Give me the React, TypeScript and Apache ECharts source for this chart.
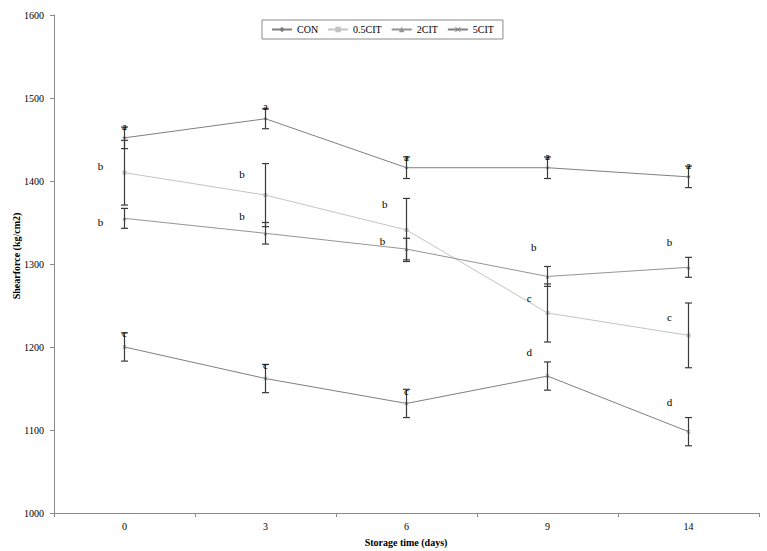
import React, { useEffect, useRef } from "react";
import * as echarts from "echarts";

const categories = ["0", "3", "6", "9", "14"];
const seriesNames = ["CON", "0.5CIT", "2CIT", "5CIT"];

const conValues = [1452, 1475, 1416, 1416, 1405];
const conErr = [13, 12, 13, 13, 13];
const cit05Values = [1410, 1383, 1341, 1241, 1214];
const cit05Err = [39, 38, 38, 35, 39];
const cit2Values = [1355, 1337, 1318, 1285, 1296];
const cit2Err = [12, 13, 13, 12, 12];
const cit5Values = [1200, 1162, 1132, 1165, 1098];
const cit5Err = [17, 17, 17, 17, 17];

// significance letters: letter, vertical anchor (kg/cm2), horizontal shift (fraction of a category)
const conLetters = ["a", "a", "a", "a", "a"];
const conLetterY = [1466, 1490, 1429, 1430, 1419];
const conLetterDx = [0, 0, 0, 0, 0];
const cit05Letters = ["b", "b", "b", "c", "c"];
const cit05LetterY = [1418, 1409, 1372, 1259, 1236];
const cit05LetterDx = [-0.17, -0.166, -0.154, -0.13, -0.135];
const cit2Letters = ["b", "b", "b", "b", "b"];
const cit2LetterY = [1351, 1358, 1328, 1321, 1326];
const cit2LetterDx = [-0.17, -0.166, -0.17, -0.097, -0.135];
const cit5Letters = ["c", "c", "c", "d", "d"];
const cit5LetterY = [1217, 1178, 1147, 1194, 1134];
const cit5LetterDx = [0, 0, 0, -0.13, -0.135];

const FONT = '"Liberation Serif", "Times New Roman", serif';
const X_SYMBOL = "path://M0,1L1,0L5,4L9,0L10,1L6,5L10,9L9,10L5,6L1,10L0,9L4,5Z";

export default function App() {
  const ref = useRef<HTMLDivElement>(null);

  useEffect(() => {
    if (!ref.current) return;
    const chart = echarts.init(ref.current, undefined, { renderer: "svg" });

    const lineDefs = [
      { name: seriesNames[0], values: conValues, color: "#7f7f7f", symbol: "diamond", size: 4 },
      { name: seriesNames[1], values: cit05Values, color: "#c4c4c4", symbol: "rect", size: 4 },
      { name: seriesNames[2], values: cit2Values, color: "#959595", symbol: "triangle", size: 4 },
      { name: seriesNames[3], values: cit5Values, color: "#7f7f7f", symbol: X_SYMBOL, size: 4 },
    ];
    const errDefs = [
      { values: conValues, err: conErr },
      { values: cit05Values, err: cit05Err },
      { values: cit2Values, err: cit2Err },
      { values: cit5Values, err: cit5Err },
    ];
    const letterDefs = [
      { letters: conLetters, ys: conLetterY, dx: conLetterDx },
      { letters: cit05Letters, ys: cit05LetterY, dx: cit05LetterDx },
      { letters: cit2Letters, ys: cit2LetterY, dx: cit2LetterDx },
      { letters: cit5Letters, ys: cit5LetterY, dx: cit5LetterDx },
    ];

    const lineSeries = lineDefs.map((d) => ({
      type: "line",
      name: d.name,
      data: d.values,
      symbol: d.symbol,
      symbolSize: d.size,
      showAllSymbol: true,
      lineStyle: { color: d.color, width: 1 },
      itemStyle: { color: d.color },
      z: 2,
    }));

    const errorSeries = errDefs.map((d) => ({
      type: "custom",
      silent: true,
      z: 3,
      data: d.values.map((v, i) => [i, v - d.err[i], v + d.err[i]]),
      renderItem: (params: any, api: any) => {
        const x = api.value(0);
        const top = api.coord([x, api.value(2)]);
        const bot = api.coord([x, api.value(1)]);
        const w = 3.5;
        const st = { stroke: "#3a3a3a", lineWidth: 1.2 };
        return {
          type: "group",
          children: [
            { type: "line", shape: { x1: top[0], y1: top[1], x2: bot[0], y2: bot[1] }, style: st },
            { type: "line", shape: { x1: top[0] - w, y1: top[1], x2: top[0] + w, y2: top[1] }, style: st },
            { type: "line", shape: { x1: bot[0] - w, y1: bot[1], x2: bot[0] + w, y2: bot[1] }, style: st },
          ],
        };
      },
    }));

    const letterSeries = letterDefs.map((d) => ({
      type: "custom",
      silent: true,
      z: 4,
      data: d.ys.map((y, i) => [i, y, d.dx[i]]),
      renderItem: (params: any, api: any) => {
        const p = api.coord([api.value(0), api.value(1)]);
        const band = api.size([1, 0])[0];
        return {
          type: "text",
          x: p[0] + api.value(2) * band,
          y: p[1],
          style: {
            text: d.letters[params.dataIndex],
            fontSize: 11,
            fontFamily: FONT,
            fill: "#000",
            align: "center",
            verticalAlign: "middle",
          },
        };
      },
    }));

    chart.setOption({
      animation: false,
      backgroundColor: "#fff",
      grid: { left: 54, right: 8, top: 15, bottom: 38, containLabel: false },
      legend: {
        data: seriesNames,
        left: 262,
        top: 20,
        orient: "horizontal",
        itemWidth: 20,
        itemHeight: 7,
        itemGap: 9,
        padding: [3, 9],
        borderColor: "#8a8a8a",
        borderWidth: 1,
        borderRadius: 0,
        textStyle: { fontSize: 10, fontFamily: FONT, color: "#000", lineHeight: 13 },
      },
      xAxis: {
        type: "category",
        data: categories,
        boundaryGap: true,
        axisLine: { show: true, lineStyle: { color: "#8a8a8a", width: 1 } },
        axisTick: { show: true, length: 4, alignWithLabel: false, lineStyle: { color: "#8a8a8a" } },
        axisLabel: { fontSize: 10, fontFamily: FONT, color: "#000", margin: 8 },
        splitLine: { show: false },
      },
      yAxis: {
        type: "value",
        min: 1000,
        max: 1600,
        interval: 100,
        axisLine: { show: true, lineStyle: { color: "#8a8a8a", width: 1 } },
        axisTick: { show: true, length: 4, lineStyle: { color: "#8a8a8a" } },
        axisLabel: {
          fontSize: 10,
          fontFamily: FONT,
          color: "#000",
          margin: 10,
          formatter: (v: number) => String(v),
        },
        splitLine: { show: false },
      },
      graphic: [
        {
          type: "text",
          x: 16,
          y: 256,
          rotation: Math.PI / 2,
          style: {
            text: "Shearforce (kg/cm2)",
            fontSize: 10,
            fontWeight: "bold",
            fontFamily: FONT,
            fill: "#000",
            align: "center",
            verticalAlign: "middle",
          },
        },
        {
          type: "text",
          x: 406,
          y: 542,
          style: {
            text: "Storage time (days)",
            fontSize: 10,
            fontWeight: "bold",
            fontFamily: FONT,
            fill: "#000",
            align: "center",
            verticalAlign: "middle",
          },
        },
      ],
      series: [...lineSeries, ...errorSeries, ...letterSeries],
    });

    return () => chart.dispose();
  }, []);

  return (
    <div
      ref={ref}
      style={{ position: "absolute", left: 0, top: 0, width: 767, height: 551, background: "#fff" }}
    />
  );
}
